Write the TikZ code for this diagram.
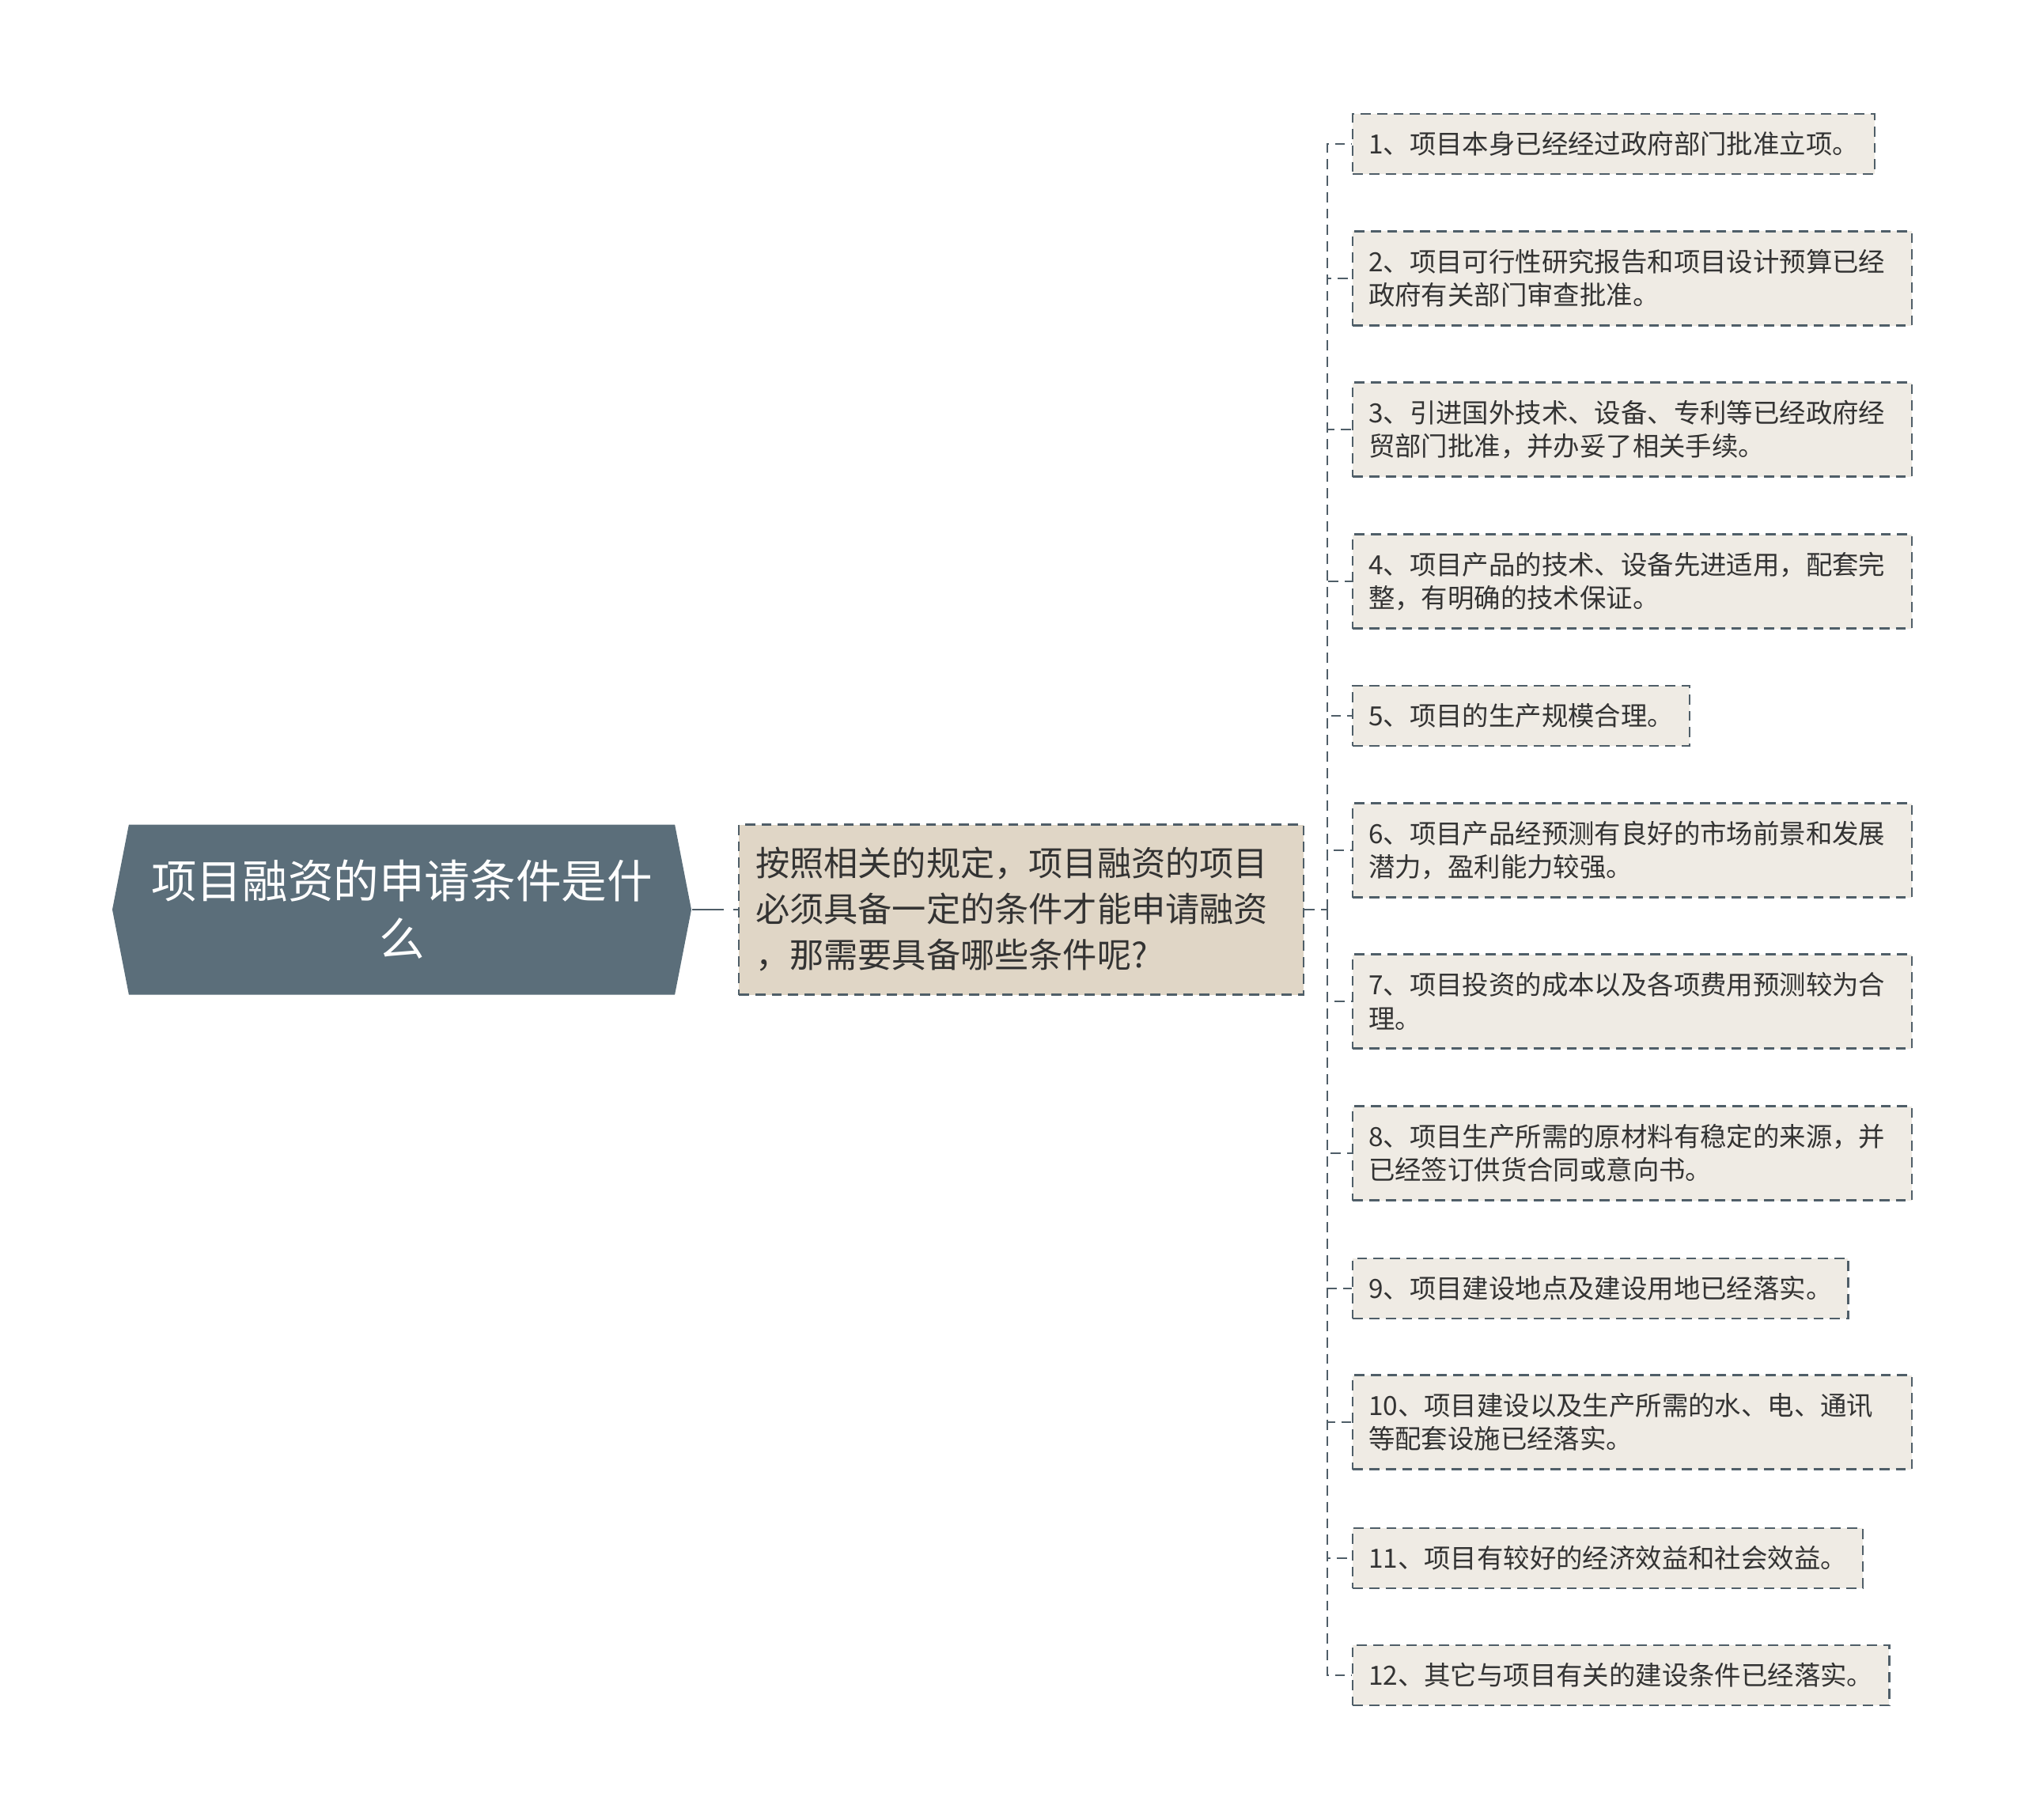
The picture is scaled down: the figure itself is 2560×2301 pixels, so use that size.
\documentclass[tikz,border=0pt]{standalone}
\usepackage{fontspec}
\setmainfont{Noto Sans CJK SC}
\usetikzlibrary{shapes.symbols}
\definecolor{slate}{HTML}{5B6E7A}
\definecolor{edgegray}{HTML}{4F5E68}
\definecolor{midfill}{HTML}{E0D6C6}
\definecolor{leaffill}{HTML}{EFEBE4}
\definecolor{inkgray}{HTML}{333333}
\tikzset{
  link/.style={draw=edgegray, line width=0.55pt, dash pattern=on 3.2pt off 2pt},
  topic/.style={signal, signal to=east and west, signal pointer angle=158,
    fill=slate, text=white, minimum width=183pt, minimum height=53.75pt,
    inner sep=0pt, align=center, font=\fontsize{14.4}{18.25}\selectfont},
  question/.style={link, fill=midfill, text=inkgray, text width=168pt,
    inner xsep=5.25pt, minimum height=53.75pt, align=left,
    font=\fontsize{10.8}{14.5}\selectfont},
  leaf/.style={link, fill=leaffill, text=inkgray, anchor=west, align=left,
    inner xsep=5pt, inner ysep=1pt, minimum height=19pt,
    font=\fontsize{8.35}{10.6}\selectfont},
  leaftwo/.style={leaf, text width=166.75pt, minimum height=29.75pt}
}
\begin{document}
\begin{tikzpicture}[x=0.25pt,y=-0.25pt]
  \useasboundingbox (0,0) rectangle (2560,2301);
  \draw
    (508,1150) node[topic] (root){项目融资的申请条件是什\\么}
    (1291,1150) node[question] (ask){按照相关的规定，项目融资的项目\\必须具备一定的条件才能申请融资\\，那需要具备哪些条件呢?}
    (1709,182) node[leaf] (c1){1、项目本身已经经过政府部门批准立项。}
    (1709,352) node[leaftwo] (c2){2、项目可行性研究报告和项目设计预算已经\\政府有关部门审查批准。}
    (1709,543) node[leaftwo] (c3){3、引进国外技术、设备、专利等已经政府经\\贸部门批准，并办妥了相关手续。}
    (1709,735) node[leaftwo] (c4){4、项目产品的技术、设备先进适用，配套完\\整，有明确的技术保证。}
    (1709,905) node[leaf] (c5){5、项目的生产规模合理。}
    (1709,1075) node[leaftwo] (c6){6、项目产品经预测有良好的市场前景和发展\\潜力，盈利能力较强。}
    (1709,1266) node[leaftwo] (c7){7、项目投资的成本以及各项费用预测较为合\\理。}
    (1709,1458) node[leaftwo] (c8){8、项目生产所需的原材料有稳定的来源，并\\已经签订供货合同或意向书。}
    (1709,1629) node[leaf] (c9){9、项目建设地点及建设用地已经落实。}
    (1709,1798) node[leaftwo] (c10){10、项目建设以及生产所需的水、电、通讯\\等配套设施已经落实。}
    (1709,1970) node[leaf] (c11){11、项目有较好的经济效益和社会效益。}
    (1709,2118) node[leaf] (c12){12、其它与项目有关的建设条件已经落实。};
  \coordinate (trunk) at (1678,1150);
  \begin{scope}[link]
    \draw[dash pattern=on 10pt off 3pt] (root.east) to (ask.west);
    \draw (ask.east) to (trunk);
    \draw (trunk) |- (c1.west);
    \draw (trunk) |- (c2.west);
    \draw (trunk) |- (c3.west);
    \draw (trunk) |- (c4.west);
    \draw (trunk) |- (c5.west);
    \draw (trunk) |- (c6.west);
    \draw (trunk) |- (c7.west);
    \draw (trunk) |- (c8.west);
    \draw (trunk) |- (c9.west);
    \draw (trunk) |- (c10.west);
    \draw (trunk) |- (c11.west);
    \draw (trunk) |- (c12.west);
  \end{scope}
\end{tikzpicture}
\end{document}
